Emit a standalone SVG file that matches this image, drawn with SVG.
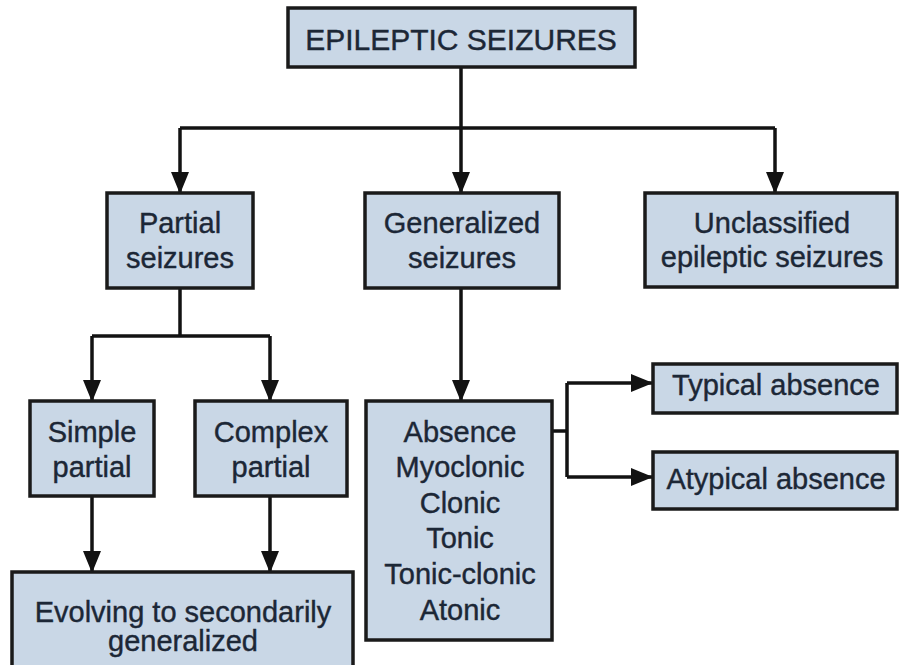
<svg xmlns="http://www.w3.org/2000/svg" width="899" height="665" viewBox="0 0 899 665">
  <defs>
    <marker id="arrow" markerUnits="userSpaceOnUse" markerWidth="22" markerHeight="22" viewBox="0 0 22 22" refX="21" refY="11" orient="auto">
      <path d="M0,2 L22,11 L0,20 Z" fill="#121212"/>
    </marker>
    <style>
      .box { fill: #c9d7e6; stroke: #1a1a1a; stroke-width: 3.5; }
      .lbl { font-family: "Liberation Sans", Arial, sans-serif; font-size: 29px; fill: #1c2736; stroke: #1c2736; stroke-width: 0.4; text-anchor: middle; }
      .wire { fill: none; stroke: #121212; stroke-width: 3.5; }
      .arr { fill: none; stroke: #121212; stroke-width: 3.5; marker-end: url(#arrow); }
    </style>
  </defs>
  <rect width="899" height="665" fill="#ffffff"/>

  <g id="connectors">
    <path class="wire" d="M461,67 V128 M180,128 H775"/>
    <path class="arr" d="M180,128 V193"/>
    <path class="arr" d="M461,128 V193"/>
    <path class="arr" d="M775,128 V193"/>
    <path class="wire" d="M180,288 V336 M92,336 H270"/>
    <path class="arr" d="M92,336 V401"/>
    <path class="arr" d="M270,336 V401"/>
    <path class="arr" d="M92,496 V572"/>
    <path class="arr" d="M270,496 V572"/>
    <path class="arr" d="M461,288 V401"/>
    <path class="wire" d="M552,431 H567 M567,383 V477"/>
    <path class="arr" d="M567,383 H652"/>
    <path class="arr" d="M567,477 H652"/>
  </g>

  <g id="epileptic-seizures">
    <rect class="box" x="288" y="8" width="347" height="59"/>
    <text class="lbl" x="461" y="50" style="font-size:30px">EPILEPTIC SEIZURES</text>
  </g>

  <g id="partial-seizures">
    <rect class="box" x="107" y="193" width="146" height="95"/>
    <text class="lbl" x="180" y="233">Partial</text>
    <text class="lbl" x="180" y="268">seizures</text>
  </g>

  <g id="generalized-seizures">
    <rect class="box" x="365" y="193" width="194" height="95"/>
    <text class="lbl" x="462" y="233">Generalized</text>
    <text class="lbl" x="462" y="268">seizures</text>
  </g>

  <g id="unclassified-seizures">
    <rect class="box" x="645" y="193" width="252" height="94"/>
    <text class="lbl" x="772" y="233">Unclassified</text>
    <text class="lbl" x="772" y="267">epileptic seizures</text>
  </g>

  <g id="simple-partial">
    <rect class="box" x="30" y="401" width="124" height="95"/>
    <text class="lbl" x="92" y="442">Simple</text>
    <text class="lbl" x="92" y="477">partial</text>
  </g>

  <g id="complex-partial">
    <rect class="box" x="195" y="401" width="152" height="95"/>
    <text class="lbl" x="271" y="442">Complex</text>
    <text class="lbl" x="271" y="477">partial</text>
  </g>

  <g id="secondarily-generalized">
    <rect class="box" x="12" y="572" width="341" height="100"/>
    <text class="lbl" x="183" y="622">Evolving to secondarily</text>
    <text class="lbl" x="183" y="651">generalized</text>
  </g>

  <g id="generalized-types">
    <rect class="box" x="366" y="401" width="186" height="239"/>
    <text class="lbl" x="460" y="442">Absence</text>
    <text class="lbl" x="460" y="477">Myoclonic</text>
    <text class="lbl" x="460" y="513">Clonic</text>
    <text class="lbl" x="460" y="548">Tonic</text>
    <text class="lbl" x="460" y="584">Tonic-clonic</text>
    <text class="lbl" x="460" y="620">Atonic</text>
  </g>

  <g id="typical-absence">
    <rect class="box" x="653" y="364" width="244" height="49"/>
    <text class="lbl" x="776" y="395">Typical absence</text>
  </g>

  <g id="atypical-absence">
    <rect class="box" x="653" y="452" width="244" height="57"/>
    <text class="lbl" x="776" y="489">Atypical absence</text>
  </g>
</svg>
